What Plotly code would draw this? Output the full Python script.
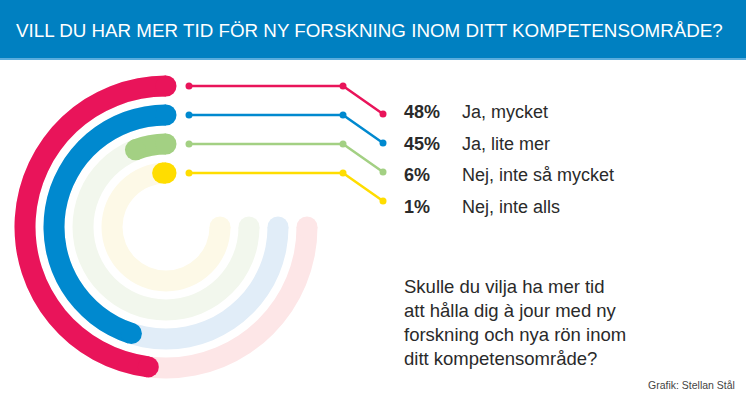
import plotly.graph_objects as go

# ---------------- data ----------------
categories = ["Ja, mycket", "Ja, lite mer", "Nej, inte så mycket", "Nej, inte alls"]
values = [48, 45, 6, 1]                      # percent
pct_labels = ["48%", "45%", "6%", "1%"]
colors = ["#E9145A", "#0089CF", "#A3D083", "#FFDD00"]
track_colors = ["#FDE6E7", "#E1EDF8", "#F2F7ED", "#FDF9E7"]
title = "VILL DU HAR MER TID FÖR NY FORSKNING INOM DITT KOMPETENSOMRÅDE?"
question_lines = ["Skulle du vilja ha mer tid", "att hålla dig à jour med ny",
                  "forskning och nya rön inom", "ditt kompetensområde?"]
credit = "Grafik: Stellan Stål"

# ---------------- layout constants (pixels) ----------------
W, H = 746, 398
CX, CY = 166, 227          # centre of the rings
RMAX = 160                 # radial axis range -> pixels
R_OUT, STEP, BAND = 141, 29, 21
TRACK_SPAN = 270           # degrees of background track
FULL = 360                 # 100 % == full circle
radii = [R_OUT - i * STEP for i in range(len(values))]

fig = go.Figure()

# background tracks
for r, tc in zip(radii, track_colors):
    fig.add_trace(go.Barpolar(r=[BAND], base=[r - BAND / 2], theta=[TRACK_SPAN / 2],
                              width=[TRACK_SPAN], marker=dict(color=tc, line=dict(width=0)),
                              hoverinfo="skip", showlegend=False))
    fig.add_trace(go.Scatterpolar(r=[r], theta=[TRACK_SPAN], mode="markers",
                                  marker=dict(size=BAND, color=tc, line=dict(width=0)),
                                  hoverinfo="skip", showlegend=False))

# value arcs
for r, v, c, name in zip(radii, values, colors, categories):
    span = v / 100 * FULL
    fig.add_trace(go.Barpolar(r=[BAND], base=[r - BAND / 2], theta=[span / 2],
                              width=[span], marker=dict(color=c, line=dict(width=0)),
                              name=name, showlegend=False))
    fig.add_trace(go.Scatterpolar(r=[r, r], theta=[0, span], mode="markers",
                                  marker=dict(size=BAND, color=c, line=dict(width=0)),
                                  hoverinfo="skip", showlegend=False))

# leader lines (cartesian overlay in pixel units)
LX0, LX1, LX2, DROP = 189, 343, 383, 28
for r, c in zip(radii, colors):
    y0 = CY - r
    fig.add_trace(go.Scatter(x=[LX0, LX1, LX2], y=[y0, y0, y0 + DROP], mode="lines+markers",
                             line=dict(color=c, width=2.5), marker=dict(size=7, color=c),
                             hoverinfo="skip", showlegend=False, cliponaxis=False))

TEXT = "#2a2a2a"
ROW0, ROW_STEP = 112, 31.7
for i, (p, lab) in enumerate(zip(pct_labels, categories)):
    y = ROW0 + i * ROW_STEP
    fig.add_annotation(x=402, y=y, xref="x", yref="y", text="<b>" + p + "</b>",
                       showarrow=False, xanchor="left", yanchor="middle",
                       font=dict(family="Liberation Sans", size=18, color=TEXT))
    fig.add_annotation(x=460, y=y, xref="x", yref="y", text=lab,
                       showarrow=False, xanchor="left", yanchor="middle",
                       font=dict(family="Liberation Sans", size=18, color=TEXT))

fig.add_annotation(x=402, y=274, xref="x", yref="y", text="<br>".join(question_lines),
                   showarrow=False, xanchor="left", yanchor="top", align="left",
                   font=dict(family="Liberation Sans", size=18.5, color=TEXT))
fig.add_annotation(x=737, y=385, xref="x", yref="y", text=credit,
                   showarrow=False, xanchor="right", yanchor="middle",
                   font=dict(family="Liberation Sans", size=10.5, color="#444444"))

# header
HEAD = 58
fig.add_shape(type="rect", xref="paper", yref="paper", x0=0, x1=1, y0=1 - HEAD / H, y1=1,
              fillcolor="#0080C1", line=dict(width=0), layer="below")
fig.add_shape(type="rect", xref="paper", yref="paper", x0=0, x1=1,
              y0=1 - (HEAD + 2) / H, y1=1 - HEAD / H,
              fillcolor="#5AADDD", line=dict(width=0), layer="below")
fig.add_annotation(x=14, y=HEAD / 2 + 1, xref="x", yref="y", text=title, showarrow=False,
                   xanchor="left", yanchor="middle",
                   font=dict(family="Liberation Sans", size=18.8, color="white"))

fig.update_layout(
    width=W, height=H, margin=dict(l=0, r=0, t=0, b=0),
    paper_bgcolor="white", plot_bgcolor="rgba(0,0,0,0)",
    xaxis=dict(range=[0, W], visible=False, domain=[0, 1], fixedrange=True),
    yaxis=dict(range=[H, 0], visible=False, domain=[0, 1], fixedrange=True),
    polar=dict(
        domain=dict(x=[(CX - RMAX) / W, (CX + RMAX) / W],
                    y=[(H - CY - RMAX) / H, (H - CY + RMAX) / H]),
        bgcolor="rgba(0,0,0,0)",
        radialaxis=dict(range=[0, RMAX], visible=False, showgrid=False),
        angularaxis=dict(rotation=90, direction="counterclockwise", visible=False,
                         showgrid=False),
    ),
)

fig.write_html("out.html", config={"displayModeBar": False},
               post_script="document.body.style.margin='0';document.body.style.overflow='hidden';")
